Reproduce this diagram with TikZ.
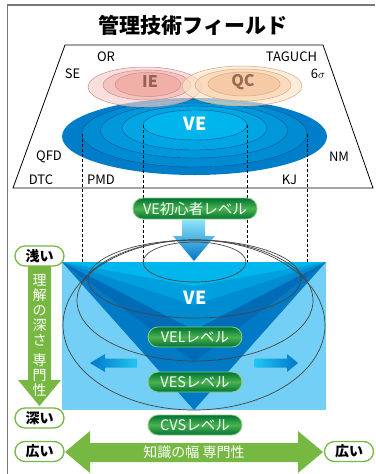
\documentclass[tikz,border=0pt]{standalone}
\usepackage{fontspec}
\setmainfont{Noto Sans CJK JP}
\definecolor{frameg}{RGB}{120,120,120}
\definecolor{veA}{RGB}{0,125,200}
\definecolor{veB}{RGB}{0,140,210}
\definecolor{veC}{RGB}{0,152,218}
\definecolor{veD}{RGB}{0,165,226}
\definecolor{veE}{RGB}{0,180,236}
\definecolor{ringline}{RGB}{0,85,145}
\definecolor{ieA}{RGB}{246,205,205}
\definecolor{ieB}{RGB}{242,182,176}
\definecolor{ieC}{RGB}{240,165,155}
\definecolor{ieline}{RGB}{205,140,140}
\definecolor{qcA}{RGB}{251,228,200}
\definecolor{qcB}{RGB}{249,210,175}
\definecolor{qcC}{RGB}{246,193,155}
\definecolor{qcline}{RGB}{215,170,130}
\definecolor{ietext}{RGB}{150,95,90}
\definecolor{qctext}{RGB}{150,110,80}
\definecolor{lightbg}{RGB}{115,207,245}
\definecolor{triA}{RGB}{0,122,196}
\definecolor{triB}{RGB}{0,108,183}
\definecolor{triC}{RGB}{0,140,208}
\definecolor{triD}{RGB}{0,160,222}
\definecolor{triE}{RGB}{0,182,236}
\definecolor{lgreen}{RGB}{118,184,66}
\definecolor{pilldark}{RGB}{0,115,52}
\definecolor{pilllight}{RGB}{75,178,78}
\definecolor{pillborder}{RGB}{140,205,130}
\definecolor{arrdark}{RGB}{0,118,200}
\definecolor{arrlight}{RGB}{0,195,242}
\definecolor{ellline}{RGB}{70,70,70}
\tikzset{
  lbl/.style={font=\fontsize{13}{13}\selectfont, inner sep=0pt},
  pill/.style={rounded corners=10pt, draw=pillborder, line width=0.8pt,
    top color=pilldark, bottom color=pilldark, middle color=pilllight,
    text=white, font=\fontsize{14.5}{14.5}\selectfont, minimum width=94pt,
    minimum height=20pt, inner sep=0pt},
  wpill/.style={rounded corners=10pt, draw=lgreen, line width=1.3pt, fill=white,
    font=\bfseries\fontsize{14}{14}\selectfont, minimum width=49pt,
    minimum height=20pt, inner sep=0pt},
  ring/.style={draw=ringline, line width=0.4pt},
  outl/.style={draw=ellline, line width=0.7pt},
  dsh/.style={line width=0.6pt, dash pattern=on 3pt off 2pt}
}
\begin{document}
\begin{tikzpicture}[x=1pt,y=-1pt]
\useasboundingbox (0,0) rectangle (375,474);
% frame
\draw[frameg, line width=1.2pt] (7.5,474) -- (7.5,5) -- (375,5);
% title
\node[font=\bfseries\fontsize{21}{21}\selectfont] (title) at (193,25) {管理技術フィールド};
% trapezoid
\draw[line width=0.8pt] (65,45) -- (323,45) -- (373,188) -- (13,188) -- cycle;
% VE rings
\fill[veA] (194.5,136.5) ellipse [x radius=132.5pt, y radius=38.5pt];
\filldraw[fill=veB, ring] (194.5,133.5) ellipse [x radius=112.5pt, y radius=33.5pt];
\filldraw[fill=veC, ring] (194,130.5) ellipse [x radius=93.5pt, y radius=27.5pt];
\filldraw[fill=veD, ring] (194.5,128) ellipse [x radius=72.5pt, y radius=22pt];
\filldraw[fill=veE, ring] (195,125) ellipse [x radius=52pt, y radius=15pt];
% IE
\filldraw[fill=ieA, fill opacity=0.65, draw=ieline, line width=0.5pt] (145,87) ellipse [x radius=57pt, y radius=20pt];
\filldraw[fill=ieB, fill opacity=0.65, draw=ieline, line width=0.5pt] (147,85) ellipse [x radius=44pt, y radius=15pt];
\filldraw[fill=ieC, fill opacity=0.65, draw=ieline, line width=0.5pt] (148,84.5) ellipse [x radius=33pt, y radius=12pt];
% QC
\filldraw[fill=qcA, fill opacity=0.65, draw=qcline, line width=0.5pt] (242,86) ellipse [x radius=60pt, y radius=20pt];
\filldraw[fill=qcB, fill opacity=0.65, draw=qcline, line width=0.5pt] (243,85) ellipse [x radius=48pt, y radius=16pt];
\filldraw[fill=qcC, fill opacity=0.65, draw=qcline, line width=0.5pt] (244,84) ellipse [x radius=36pt, y radius=12pt];
\node[font=\bfseries\fontsize{16}{16}\selectfont, text=ietext] (ie) at (150,82) {IE};
\node[font=\bfseries\fontsize{16}{16}\selectfont, text=qctext] (qc) at (243,82) {QC};
\node[font=\bfseries\fontsize{18}{18}\selectfont, text=white] (ve) at (195,124) {VE};
% labels
\node[lbl] (or) at (106,57) {OR};
\node[lbl] (tag) at (291.5,57) {TAGUCH};
\node[lbl] (se) at (72.5,73.5) {SE};
\node[lbl] (sig) at (318,74) {6$\sigma$};
\node[lbl] (qfd) at (49,157) {QFD};
\node[lbl] (dtc) at (41,180) {DTC};
\node[lbl] (pmd) at (101,180) {PMD};
\node[lbl] (kj) at (289.5,180) {KJ};
\node[lbl] (nm) at (339,157) {NM};
% dashed guides
\coordinate (d1a) at (82,133.5); \coordinate (d1b) at (82,262);
\coordinate (d2a) at (143,125); \coordinate (d2b) at (143,262);
\coordinate (d3a) at (247,125); \coordinate (d3b) at (247,262);
\coordinate (d4a) at (307,133.5); \coordinate (d4b) at (307,262);
\draw[dsh] (d1a) -- (d1b);
\draw[dsh] (d2a) -- (d2b);
\draw[dsh] (d3a) -- (d3b);
\draw[dsh] (d4a) -- (d4b);
% lower section
\fill[lightbg] (62,262) rectangle (326,410);
\fill[triA] (62,262) -- (326,262) -- (194,410) -- cycle;
\fill[triB] (62,262) -- (326,262) -- (194,362) -- cycle;
\fill[triC] (62,262) -- (326,262) -- (194,330) -- cycle;
\fill[triD] (62,262) -- (326,262) -- (194,305) -- cycle;
\fill[triE] (62,262) -- (326,262) -- (194,286) -- cycle;
% top arrow
\shade[top color=arrlight!45!white, bottom color=arrdark]
  (182,220) -- (205,220) -- (205,236) -- (215,236) -- (194,261) -- (173,236) -- (182,236) -- cycle;
% lower ellipses
\draw[outl] (194.5,262) ellipse [x radius=51.5pt, y radius=20pt];
\draw[outl] (194.5,279) ellipse [x radius=106.5pt, y radius=39pt];
\draw[outl] (195,300.5) ellipse [x radius=118pt, y radius=60.5pt];
\draw[outl] (194,325) ellipse [x radius=131pt, y radius=85pt];
% side arrows
\shade[left color=arrdark, right color=arrlight!70!lightbg]
  (90,363) -- (105,354) -- (105,358.5) -- (137,358.5) -- (137,367.5) -- (105,367.5) -- (105,372) -- cycle;
\shade[left color=arrlight!70!lightbg, right color=arrdark]
  (298,363) -- (287,354) -- (287,358.5) -- (254,358.5) -- (254,367.5) -- (287,367.5) -- (287,372) -- cycle;
\node[font=\bfseries\fontsize{18}{18}\selectfont, text=white] (ve2) at (195,298) {VE};
% pills
\node[pill, minimum width=124pt, minimum height=21pt] (p0) at (195,208.5) {VE初心者レベル};
\node[pill] (p1) at (195,337) {VELレベル};
\node[pill] (p2) at (195,382) {VESレベル};
\node[pill] (p3) at (195,425) {CVSレベル};
% left vertical arrow
\fill[lgreen] (28,266) -- (51,266) -- (51,380) -- (61,380) -- (39.5,406) -- (18,380) -- (28,380) -- cycle;
\node[text=white, font=\fontsize{14}{15}\selectfont, align=center, inner sep=0pt, anchor=north] (vt) at (39.5,274)
  {理\\解\\の\\深\\さ\\[5pt]専\\門\\性};
% bottom double arrow
\fill[lgreen] (65,452) -- (90,431) -- (90,443) -- (298,443) -- (298,431) -- (323,452) -- (298,473) -- (298,462) -- (90,462) -- (90,473) -- cycle;
\node[text=white, font=\fontsize{14}{14}\selectfont] (wid) at (194,452.5) {知識の幅 専門性};
% white pills
\node[wpill] (sh) at (39.5,256) {浅い};
\node[wpill] (dp) at (39.5,418) {深い};
\node[wpill] (wl) at (39.5,451.5) {広い};
\node[wpill] (wr) at (349,451.5) {広い};
\end{tikzpicture}
\end{document}
